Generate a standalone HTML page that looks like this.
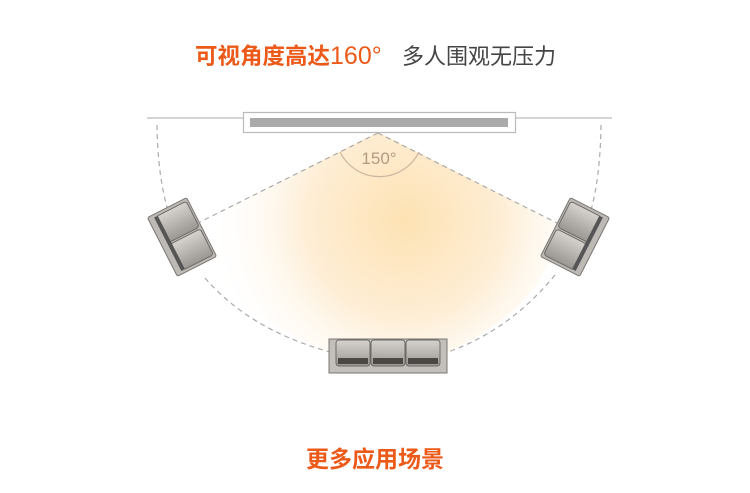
<!DOCTYPE html>
<html><head><meta charset="utf-8"><style>
html,body{margin:0;padding:0;background:#fff;width:750px;height:493px;overflow:hidden}
svg{display:block}
</style></head><body>
<svg width="750" height="493" viewBox="0 0 750 493" xmlns="http://www.w3.org/2000/svg">
<defs>
<radialGradient id="g" cx="405" cy="220" r="200" gradientUnits="userSpaceOnUse">
<stop offset="0" stop-color="#fde2b3"/>
<stop offset="0.5" stop-color="#feeed6"/>
<stop offset="1" stop-color="#ffffff" stop-opacity="0"/>
</radialGradient>
<linearGradient id="s" x1="0" y1="0" x2="0" y2="1">
<stop offset="0" stop-color="#d6d3cf"/><stop offset="1" stop-color="#9a9692"/>
</linearGradient>
<g id="seat">
<rect x="0" y="0" width="34" height="26" rx="3" fill="url(#s)" stroke="#6e6a66" stroke-width="1"/>
<rect x="2" y="18" width="30" height="6" fill="#4a4744"/>
</g>
</defs>
<text x="195" y="64" font-family="Liberation Sans, Noto Sans CJK SC, sans-serif" font-size="22.5" font-weight="bold" fill="#ec5a1a">可视角度高达<tspan font-weight="normal" font-size="25">160°</tspan></text>
<text x="402" y="64" font-family="Liberation Sans, Noto Sans CJK SC, sans-serif" font-size="22" fill="#444">多人围观无压力</text>

<path d="M378 132 L200 222 Q200 300 330 352 L448 352 Q556 300 557 223 Z" fill="url(#g)"/>

<line x1="147" y1="118" x2="243" y2="118" stroke="#bbb" stroke-width="1.2"/>
<line x1="515" y1="118" x2="612" y2="118" stroke="#bbb" stroke-width="1.2"/>
<rect x="243.5" y="112.5" width="272" height="20" fill="#fff" stroke="#bbb" stroke-width="1.2"/>
<rect x="250" y="118" width="258" height="9" fill="#aaa"/>

<g fill="none" stroke="#aaa" stroke-width="1.2" stroke-dasharray="5,4">
<line x1="378" y1="133" x2="200" y2="222"/>
<line x1="378" y1="133" x2="557" y2="223"/>
<path d="M157 125 Q158 200 180 240 M205 278 Q250 330 330 352"/>
<path d="M601 125 Q600 200 580 240 M555 275 Q510 330 448 352"/>
</g>
<path d="M340 152 A44 44 0 0 0 419 152" fill="none" stroke="#c9b6a0" stroke-width="1.2"/>
<text x="379" y="164" text-anchor="middle" font-family="Liberation Sans, sans-serif" font-size="17" fill="#b39a82">150°</text>

<g transform="translate(182,237) rotate(-27)">
<rect x="-22" y="-33" width="44" height="66" rx="2" fill="#bdb9b5" stroke="#7a7672"/>
<rect x="-14" y="-30" width="34" height="29" rx="3" fill="url(#s)" stroke="#6e6a66"/>
<rect x="-14" y="1" width="34" height="29" rx="3" fill="url(#s)" stroke="#6e6a66"/>
<rect x="-16" y="-30" width="4" height="60" fill="#555"/>
</g>
<g transform="translate(575,237) rotate(27)">
<rect x="-22" y="-33" width="44" height="66" rx="2" fill="#bdb9b5" stroke="#7a7672"/>
<rect x="-20" y="-30" width="34" height="29" rx="3" fill="url(#s)" stroke="#6e6a66"/>
<rect x="-20" y="1" width="34" height="29" rx="3" fill="url(#s)" stroke="#6e6a66"/>
<rect x="12" y="-30" width="4" height="60" fill="#555"/>
</g>
<g>
<rect x="329" y="339" width="118" height="34" fill="#c3bfbb" stroke="#7a7672"/>
<use href="#seat" x="336" y="340"/>
<use href="#seat" x="371" y="340"/>
<use href="#seat" x="406" y="340"/>
</g>

<text x="375" y="467" text-anchor="middle" font-family="Liberation Sans, Noto Sans CJK SC, sans-serif" font-size="23" font-weight="bold" fill="#ec5a1a">更多应用场景</text>
</svg>
</body></html>
